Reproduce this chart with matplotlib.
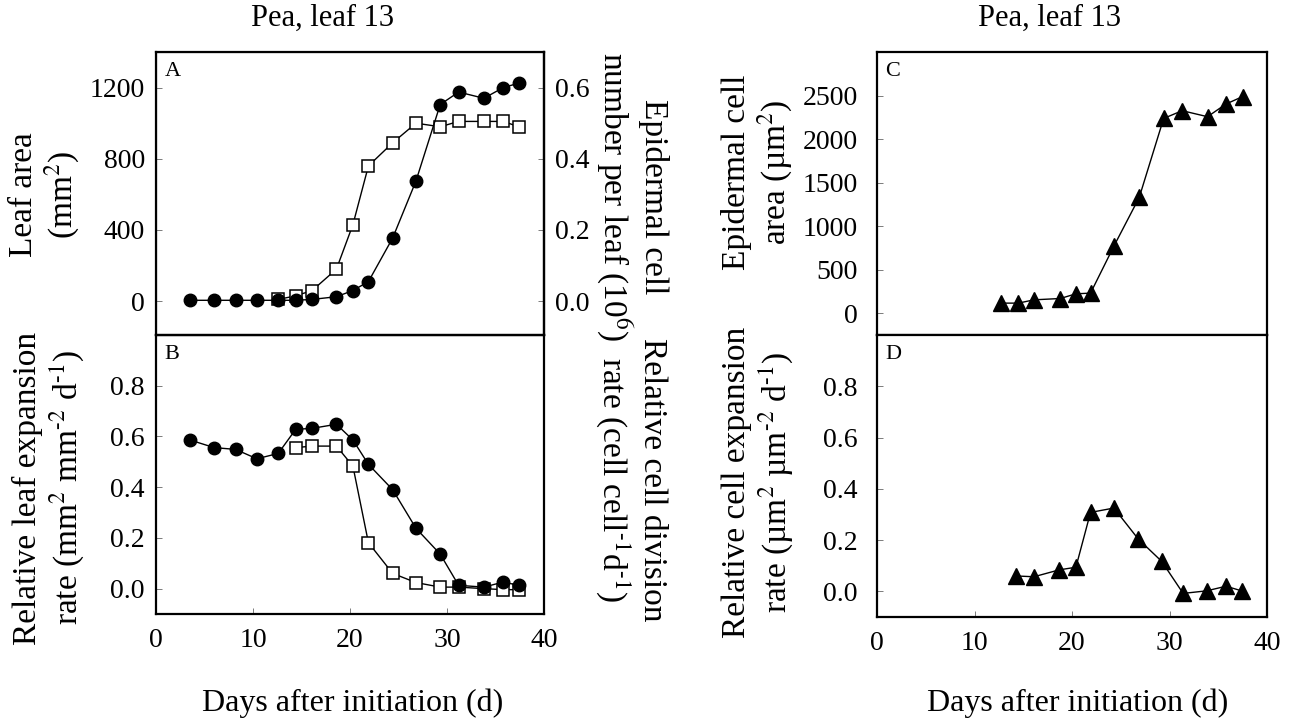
import numpy as np
import matplotlib
matplotlib.use("Agg")
from matplotlib import pyplot as plt

plt.rcParams['font.family'] = ['Liberation Serif', 'DejaVu Serif']
plt.rcParams['mathtext.fontset'] = 'stix'

# days after initiation
days = [3.5, 6.0, 8.2, 10.4, 12.6, 14.4, 16.1, 18.6, 20.3, 21.9, 24.4, 26.8, 29.3, 31.2, 33.8, 35.8, 37.4]

# A: leaf area (mm2) and epidermal cell number (10^6)
leaf_area = [5, 5, 5, 5, 5, 5, 10, 25, 60, 110, 355, 675, 1105, 1175, 1140, 1200, 1225]
cell_number = [0.005, 0.015, 0.03, 0.09, 0.215, 0.38, 0.445, 0.50, 0.49, 0.505, 0.505, 0.505, 0.49]

# B: relative leaf expansion rate and relative cell division rate
leaf_rer = [0.586, 0.556, 0.549, 0.512, 0.533, 0.628, 0.632, 0.648, 0.586, 0.49, 0.39, 0.238,
            0.136, 0.013, 0.006, 0.026, 0.013]
cell_div = [0.556, 0.562, 0.562, 0.483, 0.181, 0.06, 0.024, 0.006, 0.006, 0.0, -0.004, -0.004]

# C: epidermal cell area (um2)
days_c = [12.7, 14.5, 16.1, 18.8, 20.4, 21.9, 24.3, 26.9, 29.4, 31.3, 33.9, 35.8, 37.5]
cell_area = [116, 116, 154, 169, 223, 231, 771, 1331, 2237, 2326, 2257, 2403, 2488]

# D: relative cell expansion rate
days_d = [14.3, 16.1, 18.7, 20.4, 21.9, 24.3, 26.8, 29.2, 31.4, 33.8, 35.8, 37.4]
cell_rer = [0.06, 0.057, 0.084, 0.094, 0.308, 0.325, 0.204, 0.117, -0.008, 0.002, 0.02, 0.002]

xticks = [0, 10, 20, 30, 40]

W, H = 1289, 723
fig = plt.figure(figsize=(W / 100, H / 100), dpi=100)

def box(x0, y0, x1, y1):
    # pixel box -> figure fraction
    return [x0 / W, 1 - y1 / H, (x1 - x0) / W, (y1 - y0) / H]

def px(x, y):
    return x / W, 1 - y / H

axA = fig.add_axes(box(156, 52, 544, 335))
axB = fig.add_axes(box(156, 335, 544, 614))
axC = fig.add_axes(box(877, 52, 1267, 335))
axD = fig.add_axes(box(877, 335, 1267, 617))

TICK = 20
line_kw = dict(color='black', lw=1.0)
fmt1 = matplotlib.ticker.FormatStrFormatter('%.1f')

for ax in [axA, axB, axC, axD]:
    ax.set_xlim(0, 39.5)
    ax.set_xticks(xticks)
    for s in ax.spines.values():
        s.set_linewidth(1.6)
    ax.tick_params(direction='in', length=4, width=0.6, color='0.4', labelsize=TICK, pad=8)
    ax.tick_params(axis='x', pad=10)

for ax in [axA, axC]:
    ax.tick_params(axis='x', labelbottom=False, length=0)

axA2 = axA.twinx()
axA2.spines['right'].set_linewidth(1.6)

# A
axA2.plot(days[4:], cell_number, marker='s', ms=8.5, mfc='white', mec='black', mew=1.1, zorder=2, **line_kw)
axA.plot(days, leaf_area, marker='o', ms=9, mfc='black', mec='black', zorder=3, **line_kw)
axA.set_zorder(axA2.get_zorder() + 1)
axA.patch.set_visible(False)
axA.set_ylim(-190, 1400)
axA.set_yticks([0, 400, 800, 1200])
axA2.set_ylim(-0.095, 0.70)
axA2.set_yticks([0.0, 0.2, 0.4, 0.6])
axA2.yaxis.set_major_formatter(fmt1)
axA2.tick_params(direction='in', length=4, width=0.6, color='0.4', labelsize=TICK, pad=8)

# B
axB.plot(days[5:], cell_div, marker='s', ms=8.5, mfc='white', mec='black', mew=1.1, zorder=2, **line_kw)
axB.plot(days, leaf_rer, marker='o', ms=9, mfc='black', mec='black', zorder=3, **line_kw)
axB.set_ylim(-0.1, 1.0)
axB.set_yticks([0.0, 0.2, 0.4, 0.6, 0.8])
axB.yaxis.set_major_formatter(fmt1)

# C
axC.plot(days_c, cell_area, marker='^', ms=11, mfc='black', mec='black', **line_kw)
axC.set_ylim(-250, 3000)
axC.set_yticks([0, 500, 1000, 1500, 2000, 2500])
axC.tick_params(axis='y', pad=14)

# D
axD.plot(days_d, cell_rer, marker='^', ms=11, mfc='black', mec='black', **line_kw)
axD.set_ylim(-0.1, 1.0)
axD.set_yticks([0.0, 0.2, 0.4, 0.6, 0.8])
axD.yaxis.set_major_formatter(fmt1)
axD.tick_params(axis='y', pad=14)

# panel letters
for ax, letter in [(axA, 'A'), (axB, 'B'), (axC, 'C'), (axD, 'D')]:
    ax.text(0.022, 0.965, letter, transform=ax.transAxes, fontsize=16, va='top', ha='left')

# titles
fig.text(*px(323, 18), 'Pea, leaf 13', fontsize=22, ha='center', va='center')
fig.text(*px(1050, 18), 'Pea, leaf 13', fontsize=22, ha='center', va='center')

# x labels
fig.text(*px(353, 703), 'Days after initiation (d)', fontsize=23, ha='center', va='center')
fig.text(*px(1078, 703), 'Days after initiation (d)', fontsize=23, ha='center', va='center')

# superscripts with a short hyphen, as in the original
m1 = '$^{\u20101}$'
m2 = '$^{\u20102}$'
sq = '$^2$'

YL = 24
lab_kw = dict(fontsize=YL, ha='center', va='center', multialignment='center', linespacing=1.15)
fig.text(*px(45, 195), 'Leaf area\n(mm' + sq + ')', rotation=90, **lab_kw)
fig.text(*px(49, 488), 'Relative leaf expansion\nrate (mm' + sq + ' mm' + m2 + ' d' + m1 + ')',
         rotation=90, **lab_kw)
fig.text(*px(631, 197), 'Epidermal cell\nnumber per leaf (10$^6$)', rotation=-90, **lab_kw)
fig.text(*px(631, 480), 'Relative cell division\nrate (cell cell' + m1 + 'd' + m1 + ')',
         rotation=-90, **lab_kw)
fig.text(*px(758, 172), 'Epidermal cell\narea (\u00b5m' + sq + ')', rotation=90, **lab_kw)
fig.text(*px(758, 482), 'Relative cell expansion\nrate (\u00b5m' + sq + ' \u00b5m' + m2 + ' d' + m1 + ')',
         rotation=90, **lab_kw)

fig.savefig('out.png', dpi=100)
